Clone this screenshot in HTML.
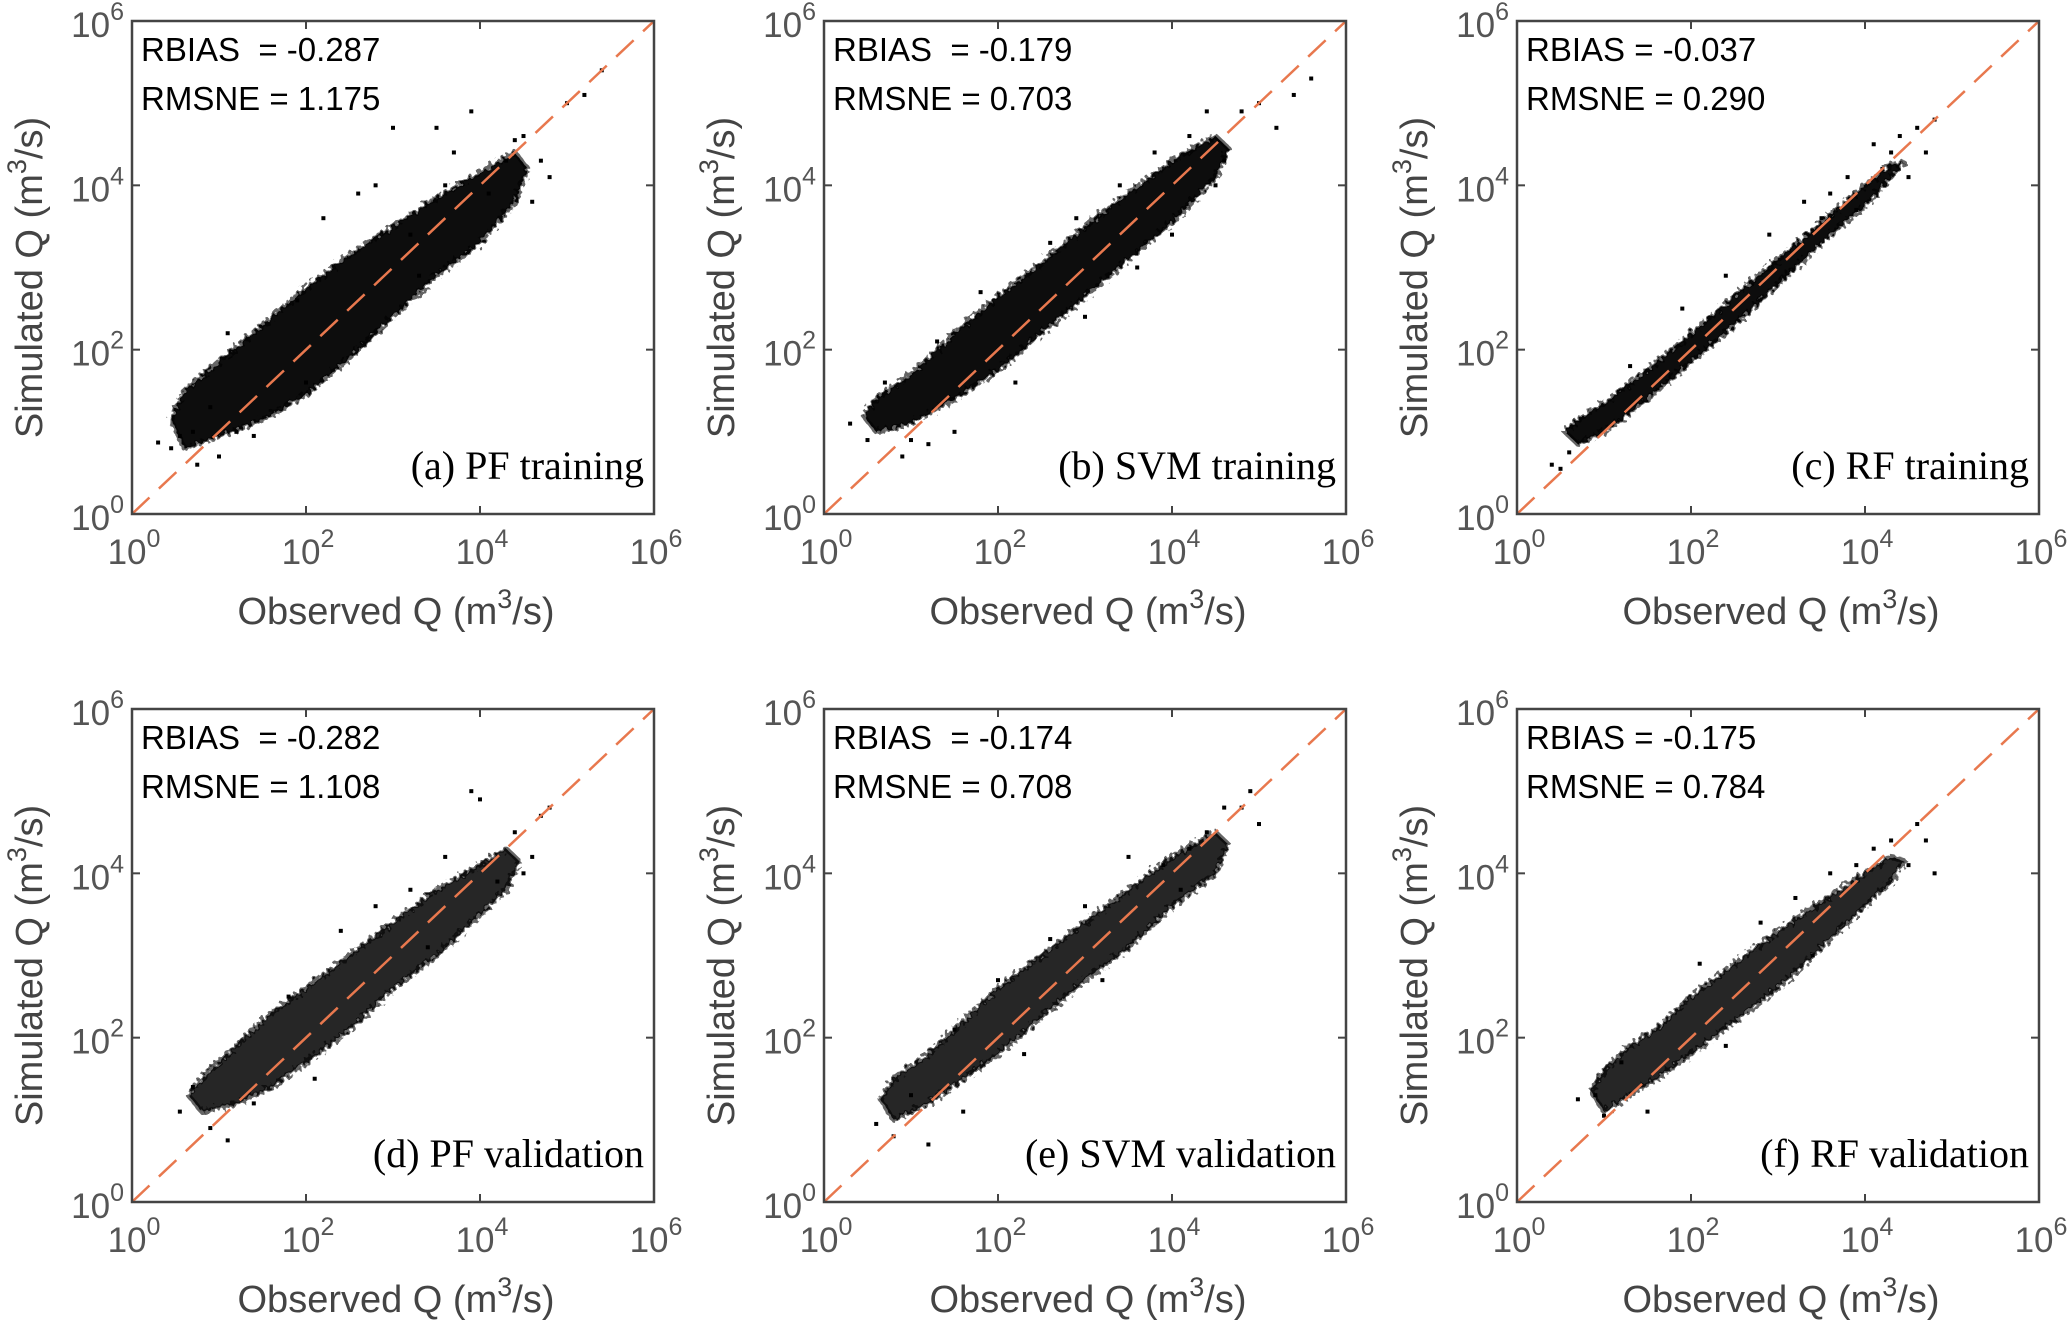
<!DOCTYPE html>
<html><head><meta charset="utf-8"><style>
body{margin:0;background:#fff}
svg{display:block}
</style></head><body>
<svg id="fig" width="2067" height="1326" viewBox="0 0 2067 1326" xmlns="http://www.w3.org/2000/svg">
<defs><filter id="fz" x="-5%" y="-5%" width="110%" height="110%"><feTurbulence type="fractalNoise" baseFrequency="0.25" numOctaves="1" result="n"/><feDisplacementMap in="SourceGraphic" in2="n" scale="10"/></filter></defs>
</svg>
<script>
// ---- data (log10 values) ----
const panelIds = ['a','b','c','d','e','f'];
const rbias = ['-0.287','-0.179','-0.037','-0.282','-0.174','-0.175'];
const rmsne = ['1.175','0.703','0.290','1.108','0.708','0.784'];
const labels = ['(a) PF training','(b) SVM training','(c) RF training','(d) PF validation','(e) SVM validation','(f) RF validation'];
const tickVals = [0,2,4,6];
const tickLabels = ['0','2','4','6'];

const bandXa = [0.6,1,1.5,2,2.5,3,3.5,4,4.4];
const bandLoa = [0.8,0.95,1.15,1.45,1.9,2.4,2.9,3.3,3.8];
const bandHia = [1.5,1.85,2.3,2.75,3.15,3.5,3.85,4.15,4.4];
const bandXb = [0.6,1,1.5,2,2.5,3,3.5,4,4.5];
const bandLob = [1.0,1.1,1.4,1.75,2.2,2.65,3.1,3.55,4.1];
const bandHib = [1.4,1.7,2.2,2.65,3.05,3.5,3.9,4.3,4.6];
const bandXc = [0.7,1,1.5,2,2.5,3,3.5,4,4.3];
const bandLoc = [0.85,1.0,1.4,1.85,2.3,2.8,3.3,3.75,4.1];
const bandHic = [1.15,1.35,1.75,2.2,2.65,3.1,3.55,4.0,4.25];
const bandXd = [0.8,1.2,1.6,2,2.5,3,3.5,4,4.3];
const bandLod = [1.1,1.2,1.4,1.7,2.1,2.6,3.0,3.5,3.8];
const bandHid = [1.5,1.9,2.3,2.6,3.0,3.4,3.8,4.1,4.3];
const bandXe = [0.8,1.2,1.6,2,2.5,3,3.5,4,4.5];
const bandLoe = [1.0,1.2,1.5,1.8,2.25,2.7,3.1,3.6,4.0];
const bandHie = [1.5,1.8,2.2,2.6,3.0,3.4,3.8,4.2,4.5];
const bandXf = [1.0,1.3,1.6,2,2.5,3,3.5,4,4.3];
const bandLof = [1.1,1.3,1.5,1.8,2.2,2.6,3.1,3.6,3.9];
const bandHif = [1.6,1.9,2.1,2.5,2.9,3.3,3.65,4.0,4.2];

const dotsXa = [0.3,0.45,0.55,0.7,0.9,1.2,1.4,1.9,2.2,2.6,3.0,3.2,3.5,3.7,3.9,4.1,4.3,4.5,4.6,4.8,5.0,5.2,5.4,2.8,3.3,4.7,1.1,2.0,0.75,1.0,4.4,3.6];
const dotsYa = [0.87,0.8,0.95,1.0,1.3,1.0,0.95,2.6,3.6,3.9,4.7,3.4,4.7,4.4,4.9,3.9,4.3,4.6,3.8,4.1,5.0,5.1,5.4,4.0,2.9,4.3,2.2,1.6,0.6,0.7,4.55,4.0];
const dotsXb = [0.3,0.5,0.7,1.0,1.3,1.8,2.2,2.6,3.0,3.4,3.8,4.0,4.2,4.4,4.6,4.8,5.0,5.2,5.4,5.6,1.5,2.9,3.6,4.5,0.9,1.2];
const dotsYb = [1.1,0.9,1.6,0.9,2.1,2.7,1.6,3.3,2.4,4.0,4.4,3.4,4.6,4.9,4.3,4.9,5.0,4.7,5.1,5.3,1.0,3.6,3.0,4.0,0.7,0.85];
const dotsXc = [0.4,0.5,0.6,1.3,1.9,2.4,2.9,3.3,3.6,3.8,3.9,4.1,4.2,4.3,4.4,4.6,4.7,4.8,4.5,3.5];
const dotsYc = [0.6,0.55,0.75,1.8,2.5,2.9,3.4,3.8,3.9,4.1,3.7,4.5,4.2,4.4,4.6,4.7,4.4,4.8,4.1,3.6];
const dotsXd = [0.55,0.7,0.9,1.1,1.4,1.8,2.4,2.8,3.2,3.6,3.9,4.0,4.2,4.4,4.5,4.7,4.8,3.4,2.1,4.6];
const dotsYd = [1.1,1.4,0.9,0.75,1.2,2.5,3.3,3.6,3.8,4.2,5.0,4.9,3.9,4.5,4.0,4.7,4.8,3.1,1.5,4.2];
const dotsXe = [0.6,0.8,1.0,1.2,1.5,2.0,2.6,3.0,3.5,3.9,4.2,4.4,4.6,4.8,4.9,5.0,1.6,3.2,4.1,2.3];
const dotsYe = [0.95,0.8,1.3,0.7,2.1,2.7,3.2,3.6,4.2,4.1,4.3,4.5,4.8,4.8,5.0,4.6,1.1,2.7,3.8,1.8];
const dotsXf = [0.7,0.9,1.0,1.2,1.5,2.1,2.8,3.2,3.6,3.9,4.1,4.3,4.5,4.7,4.8,4.6,3.4,2.4];
const dotsYf = [1.25,1.3,1.05,1.7,1.1,2.9,3.4,3.7,4.0,4.1,4.3,4.4,4.1,4.4,4.0,4.6,3.0,1.9];

const bandX = [bandXa,bandXb,bandXc,bandXd,bandXe,bandXf];
const bandLo = [bandLoa,bandLob,bandLoc,bandLod,bandLoe,bandLof];
const bandHi = [bandHia,bandHib,bandHic,bandHid,bandHie,bandHif];
const dotsX = [dotsXa,dotsXb,dotsXc,dotsXd,dotsXe,dotsXf];
const dotsY = [dotsYa,dotsYb,dotsYc,dotsYd,dotsYe,dotsYf];

const NS = 'http://www.w3.org/2000/svg';
const svg = document.getElementById('fig');
function mk(tag, attrs, parent){const e=document.createElementNS(NS,tag);for(const k in attrs)e.setAttribute(k,attrs[k]);(parent||svg).appendChild(e);return e;}

const lefts=[132,824,1517], tops=[21,709], W=522, H=493;
panelIds.forEach((pid,i)=>{
  const L=lefts[i%3], T=tops[Math.floor(i/3)];
  const sx=v=>L+v/6*W, sy=v=>T+H-v/6*H;
  const g=mk('g',{});
  
  
  // band with tapered ends
  const bx0=bandX[i], lo=bandLo[i], hi=bandHi[i], n=bx0.length;
  let pts=[];
  pts.push(sx(bx0[0]-0.15)+','+sy((lo[0]+hi[0])/2));
  bx0.forEach((x,k)=>pts.push(sx(x)+','+sy(lo[k])));
  pts.push(sx(bx0[n-1]+0.15)+','+sy((lo[n-1]+hi[n-1])/2+0.1));
  for(let k=n-1;k>=0;k--)pts.push(sx(bx0[k])+','+sy(hi[k]));
  const poly=mk('polygon',{points:pts.join(' '),fill:'#000','fill-opacity':i<3?0.95:0.85,stroke:'#000','stroke-width':5,'stroke-opacity':0.6,'stroke-linejoin':'round',filter:'url(#fz)'},g);
  
  
  dotsX[i].forEach((x,k)=>{
    const c=mk('rect',{x:sx(x)-2,y:sy(dotsY[i][k])-2,width:4,height:4,fill:'#000'},g);
    
    
  });
  const ln=mk('line',{x1:sx(0),y1:sy(0),x2:sx(6),y2:sy(6),stroke:'#e8784e','stroke-width':2.5,'stroke-dasharray':'24 13'},g);
  
  
  const bx=mk('rect',{x:L,y:T,width:W,height:H,fill:'none',stroke:'#444','stroke-width':2.5},g);
  
  
  tickVals.forEach((v,k)=>{
    mk('line',{x1:sx(v),y1:T+H,x2:sx(v),y2:T+H-8,stroke:'#444','stroke-width':2},g);
    mk('line',{x1:sx(v),y1:T,x2:sx(v),y2:T+8,stroke:'#444','stroke-width':2},g);
    mk('line',{x1:L,y1:sy(v),x2:L+8,y2:sy(v),stroke:'#444','stroke-width':2},g);
    mk('line',{x1:L+W,y1:sy(v),x2:L+W-8,y2:sy(v),stroke:'#444','stroke-width':2},g);
    const tx=mk('text',{x:sx(v)+2,y:T+H+50,'font-family':'Liberation Sans, sans-serif','font-size':35,fill:'#555','text-anchor':'middle'},g);
    tx.innerHTML='10<tspan dy="-17" font-size="25">'+tickLabels[k]+'</tspan>';
    
    
    const ty=mk('text',{x:L-8,y:sy(v)+16,'font-family':'Liberation Sans, sans-serif','font-size':35,fill:'#555','text-anchor':'end'},g);
    ty.innerHTML='10<tspan dy="-17" font-size="25">'+tickLabels[k]+'</tspan>';
    
    
  });
  const xt=mk('text',{x:L+W/2+3,y:T+H+110,'font-family':'Liberation Sans, sans-serif','font-size':38,fill:'#444','text-anchor':'middle'},g);
  xt.innerHTML='Observed Q (m<tspan dy="-16" font-size="27">3</tspan><tspan dy="16">/s)</tspan>';
  
  
  const cy=T+H/2+10, cx=L-90;
  const yt=mk('text',{x:cx,y:cy,transform:'rotate(-90 '+cx+' '+cy+')','font-family':'Liberation Sans, sans-serif','font-size':38,fill:'#444','text-anchor':'middle'},g);
  yt.innerHTML='Simulated Q (m<tspan dy="-16" font-size="27">3</tspan><tspan dy="16">/s)</tspan>';
  
  
  const t1=mk('text',{x:L+9,y:T+40,'font-family':'Liberation Sans, sans-serif','font-size':33,fill:'#000','xml:space':'preserve'},g);
  t1.textContent=(i===2||i===5?'RBIAS = ':'RBIAS\u00a0 = ')+rbias[i];
  
  
  const t2=mk('text',{x:L+9,y:T+89,'font-family':'Liberation Sans, sans-serif','font-size':33,fill:'#000'},g);
  t2.textContent='RMSNE = '+rmsne[i];
  
  
  const pl=mk('text',{x:L+W-10,y:T+458,'font-family':'Liberation Serif, serif','font-size':40,fill:'#000','text-anchor':'end'},g);
  pl.textContent=labels[i];
  
  
});
</script>
</body></html>
